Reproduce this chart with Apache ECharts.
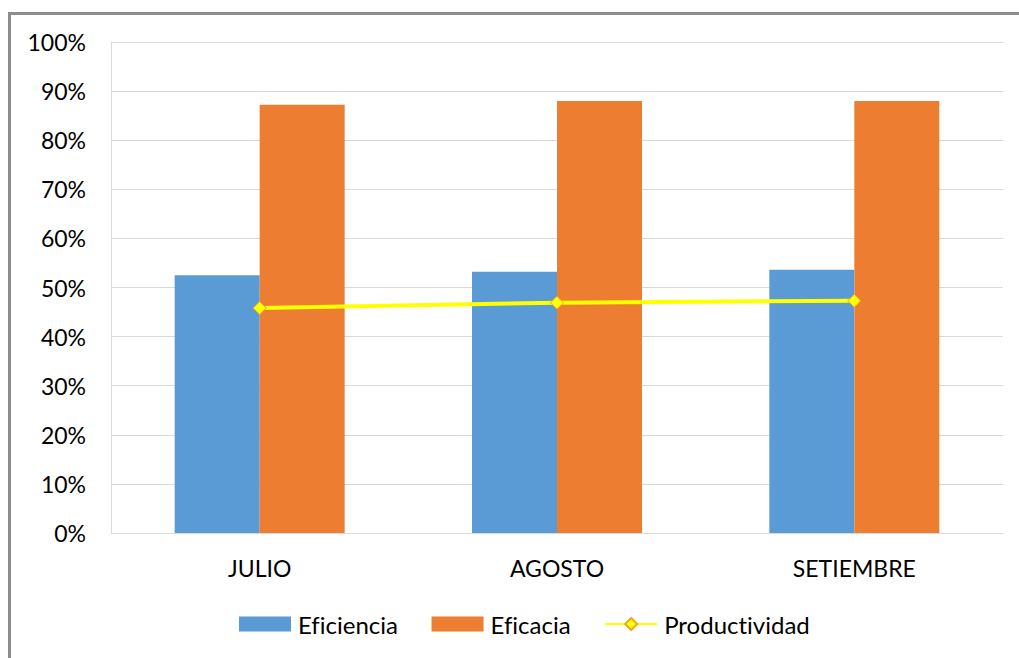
<!DOCTYPE html>
<html>
<head>
<meta charset="utf-8">
<script src="https://cdn.jsdelivr.net/npm/echarts@6/dist/echarts.min.js"></script>
<style>
  html, body { margin: 0; padding: 0; background: #fff; }
  #chart { width: 1019px; height: 658px; }
  #chart text { font-variant-ligatures: none; font-feature-settings: "liga" 0; }
</style>
</head>
<body>
<div id="chart"></div>
<script>
// Months on the category axis
const months = ['JULIO', 'AGOSTO', 'SETIEMBRE'];
// Indicator values, in percent
const eficiencia = [52.5, 53.2, 53.6];
const eficacia = [87.2, 88.0, 88.0];
const productividad = [45.8, 46.9, 47.3];

const FONT = 'Lato, "Open Sans", sans-serif';

const chart = echarts.init(document.getElementById('chart'), null, { renderer: 'svg' });
chart.setOption({
  animation: false,
  textStyle: { fontFamily: FONT },
  graphic: [
    // frame lines along the left and top edges
    { type: 'line', shape: { x1: 9.5, y1: 12, x2: 9.5, y2: 658 }, style: { stroke: '#8c8c8c', lineWidth: 3 } },
    { type: 'line', shape: { x1: 8, y1: 13.5, x2: 1019, y2: 13.5 }, style: { stroke: '#8c8c8c', lineWidth: 3 } }
  ],
  grid: { left: 111, right: 16, top: 42, bottom: 125 },
  legend: {
    top: 607,
    left: 234,
    itemGap: 34,
    itemWidth: 52,
    itemHeight: 15,
    textStyle: { fontSize: 24, color: '#000', fontFamily: FONT, padding: [0, 0, 0, 2] },
    data: [
      { name: 'Eficiencia', icon: 'rect' },
      { name: 'Eficacia', icon: 'rect' },
      { name: 'Productividad' }
    ]
  },
  xAxis: {
    type: 'category',
    data: months,
    axisLine: { show: true, lineStyle: { color: '#d9d9d9', width: 1 } },
    axisTick: { show: false },
    axisLabel: { fontSize: 23, color: '#000', margin: 23, fontFamily: FONT }
  },
  yAxis: {
    type: 'value',
    min: 0,
    max: 100,
    interval: 10,
    axisLine: { show: true, lineStyle: { color: '#d9d9d9', width: 1 } },
    axisTick: { show: false },
    splitLine: { lineStyle: { color: '#d9d9d9', width: 1 } },
    axisLabel: { fontSize: 23, color: '#000', margin: 25, fontFamily: FONT, formatter: '{value}%' }
  },
  series: [
    {
      name: 'Eficiencia',
      type: 'bar',
      data: eficiencia,
      barWidth: 85,
      barGap: '0%',
      itemStyle: { color: '#5b9bd5' }
    },
    {
      name: 'Eficacia',
      type: 'bar',
      data: eficacia,
      barWidth: 85,
      barGap: '0%',
      itemStyle: { color: '#ed7d31' }
    },
    {
      name: 'Productividad',
      type: 'line',
      data: productividad,
      symbol: 'diamond',
      symbolSize: 13,
      lineStyle: { color: '#ffff00', width: 4 },
      itemStyle: { color: '#ffff00', borderColor: '#f5a623', borderWidth: 1 },
      z: 5
    }
  ]
});
</script>
</body>
</html>
